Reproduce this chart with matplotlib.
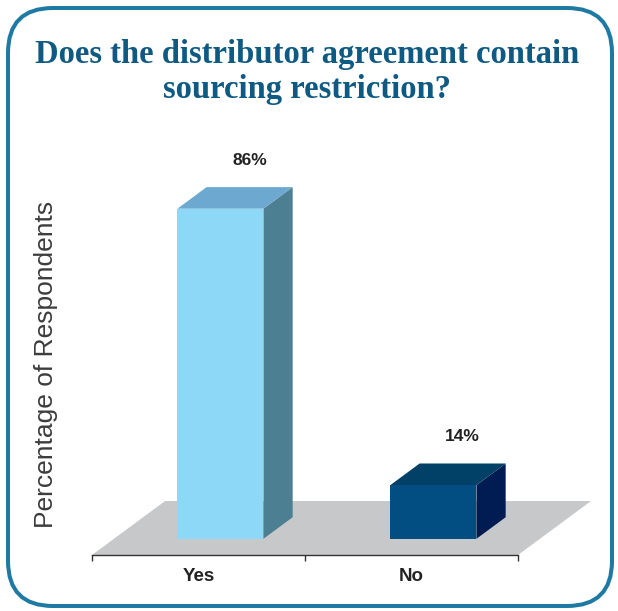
import matplotlib
matplotlib.use("Agg")
import matplotlib.pyplot as plt
from matplotlib.patches import Polygon, FancyBboxPatch

# Survey results
categories = ["Yes", "No"]
values = [86, 14]
value_labels = ["86%", "14%"]
title = "Does the distributor agreement contain\nsourcing restriction?"
y_label = "Percentage of Respondents"

front_colors = ["#8ed8f7", "#024e83"]
top_colors = ["#6ca8cf", "#024167"]
side_colors = ["#4d7f92", "#001c52"]
floor_color = "#c7c8ca"
title_color = "#0e5a82"
frame_color = "#1f7aa3"

# oblique projection: full floor depth as (dx, dy) in data units
DX, DY = 0.343, 14.06
bar_d0, bar_d1 = 0.30, 0.70      # bar occupies this slice of the floor depth
bar_w = 0.404

fig = plt.figure(figsize=(6.18, 6.11), dpi=100)
fig.patch.set_facecolor("white")

# rounded frame around the whole graphic
frame = FancyBboxPatch((0.08, 0.05), 6.04, 5.98,
                       boxstyle="round,pad=0,rounding_size=0.45",
                       transform=fig.dpi_scale_trans, facecolor="none",
                       edgecolor=frame_color, linewidth=2.9, zorder=10)
fig.patches.append(frame)

fig.text(0.497, 0.936, title, ha="center", va="top", fontsize=23.5,
         fontweight="bold", family="Liberation Serif", color=title_color,
         linespacing=1.17)

ax = fig.add_axes([92 / 618, 56 / 611, 426 / 618, 415 / 611])
floor_y = -bar_d0 * DY
ax.set_xlim(-0.5, 1.5)
ax.set_ylim(floor_y, 103.9)
ax.patch.set_visible(False)

# floor plane
x_left, x_right = -0.5, 1.5
floor = Polygon([(x_left, floor_y), (x_right, floor_y),
                 (x_right + DX, floor_y + DY), (x_left + DX, floor_y + DY)],
                closed=True, facecolor=floor_color, edgecolor="none",
                clip_on=False, zorder=1)
ax.add_patch(floor)

ddx = (bar_d1 - bar_d0) * DX
ddy = (bar_d1 - bar_d0) * DY
for i, v in enumerate(values):
    xc = i + bar_d0 * DX
    x0, x1 = xc - bar_w / 2, xc + bar_w / 2
    front = [(x0, 0), (x1, 0), (x1, v), (x0, v)]
    top = [(x0, v), (x1, v), (x1 + ddx, v + ddy), (x0 + ddx, v + ddy)]
    side = [(x1, 0), (x1 + ddx, ddy), (x1 + ddx, v + ddy), (x1, v)]
    for pts, col in ((side, side_colors[i]), (top, top_colors[i]),
                     (front, front_colors[i])):
        ax.add_patch(Polygon(pts, closed=True, facecolor=col,
                             edgecolor="none", clip_on=False, zorder=2))
    ax.text(xc + ddx, v + ddy + 6.9, value_labels[i], ha="center",
            va="center", fontsize=12.5, fontweight="bold",
            family="Liberation Sans", color="#222222")

# category axis
for s in ("top", "right", "left"):
    ax.spines[s].set_visible(False)
ax.spines["bottom"].set_color("#333333")
ax.spines["bottom"].set_linewidth(1.0)
ax.set_yticks([])
ax.set_xticks([-0.5, 0.5, 1.5])
ax.set_xticklabels([])
ax.tick_params(axis="x", which="major", direction="out", length=4,
               width=1.0, color="#333333")
ax.set_xticks([0, 1], minor=True)
ax.set_xticklabels(categories, minor=True, fontsize=13.5, fontweight="bold",
                   family="Liberation Sans", color="#222222")
ax.tick_params(axis="x", which="minor", length=0, pad=9.5)

ax.set_ylabel(y_label, fontsize=19, family="Liberation Sans",
              color="#3c3c3c", va="center")
ax.yaxis.set_label_coords(-0.108, 0.459)

fig.savefig("out.png", dpi=100)
